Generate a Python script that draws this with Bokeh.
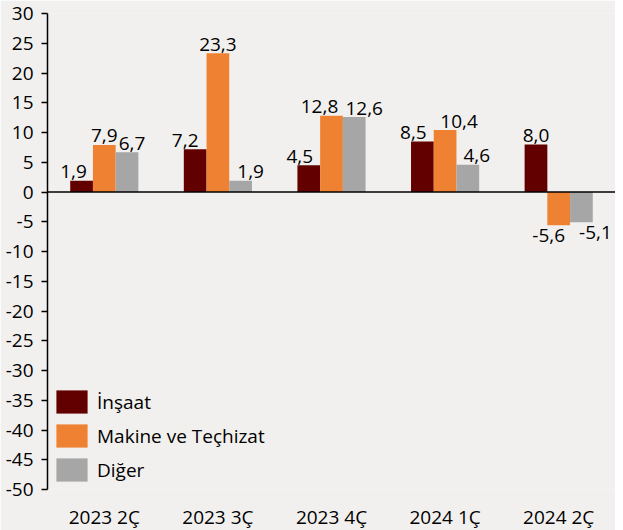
from bokeh.plotting import figure
from bokeh.models import ColumnDataSource, FactorRange, Range1d, FixedTicker, Span, Legend, LegendItem
from bokeh.transform import dodge
from bokeh.core.properties import value
from bokeh.embed import file_html
from bokeh.resources import INLINE

# ---- data ----
categories = ["2023 2Ç", "2023 3Ç", "2023 4Ç", "2024 1Ç", "2024 2Ç"]
series_names = ["İnşaat", "Makine ve Teçhizat", "Diğer"]
insaat = [1.9, 7.2, 4.5, 8.5, 8.0]
makine = [7.9, 23.3, 12.8, 10.4, -5.6]
diger = [6.7, 1.9, 12.6, 4.6, -5.1]
y_ticks = list(range(-50, 31, 5))

# ---- style ----
FONT = "Open Sans"
FS = "19px"
BG = "#f2f0ee"
colors = ["#620000", "#ee8232", "#a6a6a6"]
offsets = [-0.2, 0.0, 0.2]
# horizontal nudges (px) for value labels, per series per category (avoid overlaps)
label_nudge = [
    [-8, -10, -9, -9, 0],
    [0, 0, -12, 14, -10],
    [5, 10, 10, 9, 14],
]

src = ColumnDataSource(dict(cat=categories, s0=insaat, s1=makine, s2=diger))

p = figure(
    x_range=FactorRange(factors=categories, range_padding=0),
    y_range=Range1d(-50, 30),
    frame_width=568, frame_height=476,
    output_backend="svg", toolbar_location=None,
    background_fill_color=BG, border_fill_color=BG,
    min_border_top=13, min_border_right=0, min_border_left=47, min_border_bottom=0,
)
p.outline_line_color = None
p.xgrid.visible = False
p.ygrid.visible = False

renderers = []
for i, key in enumerate(["s0", "s1", "s2"]):
    r = p.vbar(x=dodge("cat", offsets[i], range=p.x_range), top=key, bottom=0,
               width=0.2, source=src, fill_color=colors[i], line_color=None)
    renderers.append(r)

# value labels
vals_all = [insaat, makine, diger]
for i, vals in enumerate(vals_all):
    s = ColumnDataSource(dict(
        cat=categories,
        y=vals,
        t=[f"{v:.1f}".replace(".", ",") for v in vals],
        b=["alphabetic" if v >= 0 else "top" for v in vals],
        yo=[-9 if v >= 0 else 4 for v in vals],
        xo=label_nudge[i],
    ))
    p.text(x=dodge("cat", offsets[i], range=p.x_range), y="y", text="t", source=s,
           text_align="center", text_baseline="b", y_offset="yo", x_offset="xo",
           text_font=value(FONT), text_font_size=FS, text_color="#000000")

# zero line
p.add_layout(Span(location=0, dimension="width", line_color="#000000", line_width=1.5))

# axes
p.yaxis.ticker = FixedTicker(ticks=y_ticks)
p.yaxis.major_label_overrides = {t: str(t) for t in y_ticks}
p.yaxis.axis_line_color = "#000000"
p.yaxis.axis_line_width = 1.5
p.yaxis.major_tick_line_color = "#000000"
p.yaxis.major_tick_line_width = 1.5
p.yaxis.major_tick_in = 0
p.yaxis.major_tick_out = 6
p.yaxis.minor_tick_line_color = None
p.yaxis.major_label_standoff = 8
p.yaxis.major_label_text_font = FONT
p.yaxis.major_label_text_font_size = FS
p.yaxis.major_label_text_color = "#000000"

p.xaxis.axis_line_color = None
p.xaxis.major_tick_line_color = None
p.xaxis.minor_tick_line_color = None
p.xaxis.major_label_standoff = 8
p.xaxis.major_label_text_font = FONT
p.xaxis.major_label_text_font_size = FS
p.xaxis.major_label_text_color = "#000000"

legend = Legend(
    items=[LegendItem(label=series_names[i], renderers=[renderers[i]]) for i in range(3)],
    location="bottom_left",
    background_fill_alpha=0, border_line_alpha=0,
    glyph_width=39, glyph_height=29, label_height=29, spacing=5,
    label_standoff=6, padding=5, margin=0,
    label_text_font=FONT, label_text_font_size=FS, label_text_color="#000000",
)
p.add_layout(legend)

open("out.html", "w").write(file_html(p, INLINE))
